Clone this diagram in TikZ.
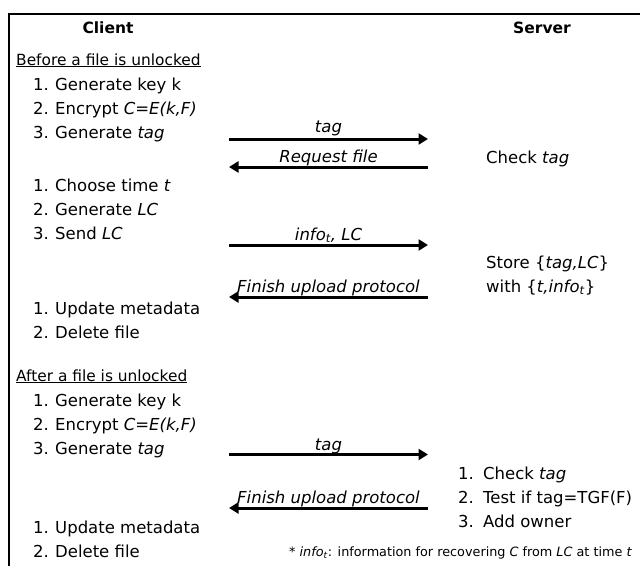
\documentclass[tikz,border=0pt]{standalone}
\usepackage{fontspec}
\setmainfont{DejaVu Sans}
\usetikzlibrary{arrows.meta}
\newcommand\itemnum[2]{\makebox[#1pt][l]{#2}}
\begin{document}
\begin{tikzpicture}[x=1pt,y=-1pt,
  txt/.style={anchor=base west,inner sep=0pt,font=\fontsize{16.5}{20}\selectfont},
  hdr/.style={anchor=base west,inner sep=0pt,font=\fontsize{15.4}{19}\selectfont},
  ttl/.style={anchor=base,inner sep=0pt,font=\fontsize{15.5}{19}\selectfont\bfseries},
  lbl/.style={anchor=base,inner sep=0pt,font=\fontsize{16.5}{20}\selectfont\itshape},
  msg/.style={line width=3pt,-{Triangle[length=9.5pt,width=11pt]}},
  fn/.style={anchor=base west,inner sep=0pt,font=\fontsize{12.8}{15}\selectfont}]
\useasboundingbox[fill=white] (0,0) rectangle (640,566);
\draw[line width=1.3pt] (9,566) -- (9,14) -- (640,14);
% titles
\node[ttl] (client) at (108,33) {Client};
\node[ttl] (server) at (542,33) {Server};
% before
\node[hdr] (before) at (16,65) {\underline{Before a file is unlocked}};
\node[txt] (b1) at (33,90) {\itemnum{22}{1.}Generate key k};
\node[txt] (b2) at (33,114) {\itemnum{22}{2.}Encrypt \textit{C=E(k,F)}};
\node[txt] (b3) at (33,138) {\itemnum{22}{3.}Generate \textit{tag}};
\node[txt] (c1) at (33,191) {\itemnum{22}{1.}Choose time \textit{t}};
\node[txt] (c2) at (33,215) {\itemnum{22}{2.}Generate \textit{LC}};
\node[txt] (c3) at (33,239) {\itemnum{22}{3.}Send \textit{LC}};
\node[txt] (u1) at (33,314) {\itemnum{22}{1.}Update metadata};
\node[txt] (u2) at (33,338) {\itemnum{22}{2.}Delete file};
% after
\node[hdr] (after) at (16,381) {\underline{After a file is unlocked}};
\node[txt] (a1) at (33,406) {\itemnum{22}{1.}Generate key k};
\node[txt] (a2) at (33,430) {\itemnum{22}{2.}Encrypt \textit{C=E(k,F)}};
\node[txt] (a3) at (33,454) {\itemnum{22}{3.}Generate \textit{tag}};
\node[txt] (v1) at (33,533) {\itemnum{22}{1.}Update metadata};
\node[txt] (v2) at (33,557) {\itemnum{22}{2.}Delete file};
% server
\node[txt] (check) at (486,163) {Check \textit{tag}};
\node[txt] (store) at (486,268) {Store \{\textit{tag,LC}\}};
\node[txt] (with) at (486,292) {with \{\textit{t,info}\textsubscript{\textit{t}}\}};
\node[txt] (s1) at (458,479) {\itemnum{25}{1.}Check \textit{tag}};
\node[txt] (s2) at (458,503) {\itemnum{25}{2.}Test if tag=TGF(F)};
\node[txt] (s3) at (458,527) {\itemnum{25}{3.}Add owner};
\node[fn] (note) at (289,556) {* \textit{info}\textsubscript{\textit{t}}: information for recovering \textit{C} from \textit{LC} at time \textit{t}};
% messages
\coordinate (m1l) at (229,139); \coordinate (m1r) at (428,139);
\coordinate (m2l) at (229,167); \coordinate (m2r) at (428,167);
\coordinate (m3l) at (229,245); \coordinate (m3r) at (428,245);
\coordinate (m4l) at (229,297); \coordinate (m4r) at (428,297);
\coordinate (m5l) at (229,454.5); \coordinate (m5r) at (428,454.5);
\coordinate (m6l) at (229,508); \coordinate (m6r) at (428,508);
\draw[msg] (m1l) -- (m1r);
\draw[msg] (m2r) -- (m2l);
\draw[msg] (m3l) -- (m3r);
\draw[msg] (m4r) -- (m4l);
\draw[msg] (m5l) -- (m5r);
\draw[msg] (m6r) -- (m6l);
\node[lbl] (t1) at (328.5,132) {tag};
\node[lbl] (t2) at (328.5,162) {Request file};
\node[lbl] (t3) at (328.5,240) {info\textsubscript{t}, LC};
\node[lbl] (t4) at (328.5,292) {Finish upload protocol};
\node[lbl] (t5) at (328.5,450) {tag};
\node[lbl] (t6) at (328.5,503) {Finish upload protocol};
\end{tikzpicture}
\end{document}
